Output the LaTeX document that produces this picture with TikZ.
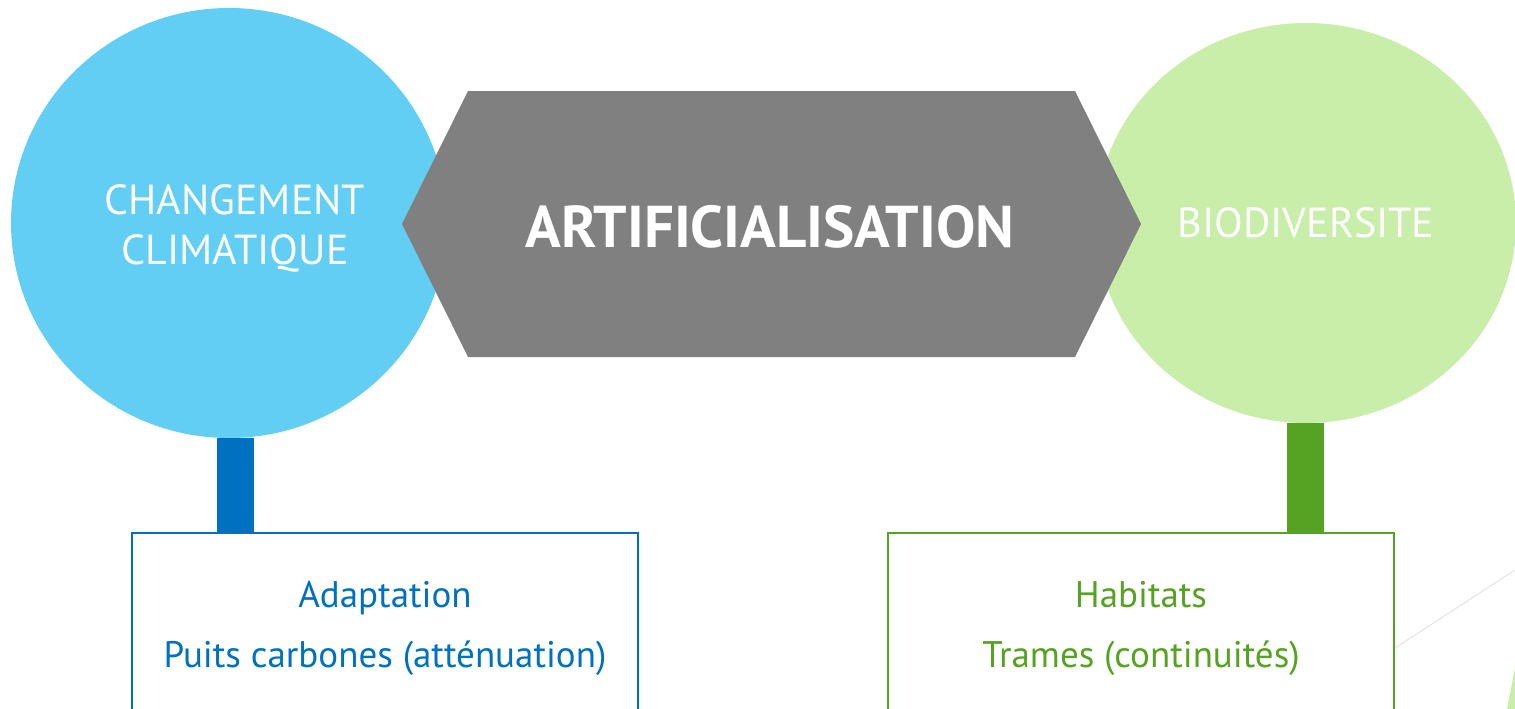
\documentclass[tikz,border=0pt]{standalone}
\usepackage{fontspec}
\setmainfont{PT Sans}
\usetikzlibrary{shapes.geometric}
\definecolor{ciel}{HTML}{63CEF4}
\definecolor{pousse}{HTML}{C8EEA9}
\definecolor{gris}{HTML}{808080}
\definecolor{bleu}{HTML}{0070C0}
\definecolor{vert}{HTML}{56A222}
\begin{document}
\begin{tikzpicture}[x=1pt,y=-1pt,
  bulle/.style={ellipse,inner sep=0pt,text=white,align=center},
  cadre/.style={draw,line width=2pt,minimum width=506,minimum height=190,anchor=north,align=center,inner sep=0pt,font=\fontsize{37}{60}\selectfont},
  tige/.style={line width=37pt}]
\useasboundingbox (0,0) rectangle (1515,709);
\clip (0,0) rectangle (1515,709);
\node[bulle,fill=ciel,minimum width=436,minimum height=430] (clim) at (229,223) {};
\node[text=white,align=center,font=\fontsize{42}{50}\selectfont] (climtxt) at (235,228) {CHANGEMENT\\CLIMATIQUE};
\node[bulle,fill=pousse,minimum width=420,minimum height=400,font=\fontsize{42}{50}\selectfont] (bio) at (1306,223) {BIODIVERSITE};
\fill[gris] (402,224) -- (468,91) -- (1075,91) -- (1141,224) -- (1075,357) -- (468,357) -- cycle;
\node[text=white,font=\bfseries\fontsize{59}{59}\selectfont] (artif) at (770,227) {ARTIFICIALISATION};
\node[cadre,bleu] (adapt) at (385,532) {Adaptation\\Puits carbones (atténuation)};
\node[cadre,vert] (habit) at (1141,532) {Habitats\\Trames (continuités)};
\coordinate (cbar) at (235.5,0);
\coordinate (bbar) at (1305,0);
\draw[tige,bleu] (clim.south -| cbar) -- (adapt.north -| cbar);
\draw[tige,vert] (bio.south -| bbar) -- (habit.north -| bbar);
\draw[gray!25,line width=0.8pt] (1395,648) -- (1515,570);
\fill[pousse] (1515,668) -- (1515,709) -- (1507,709) -- cycle;
\end{tikzpicture}
\end{document}
